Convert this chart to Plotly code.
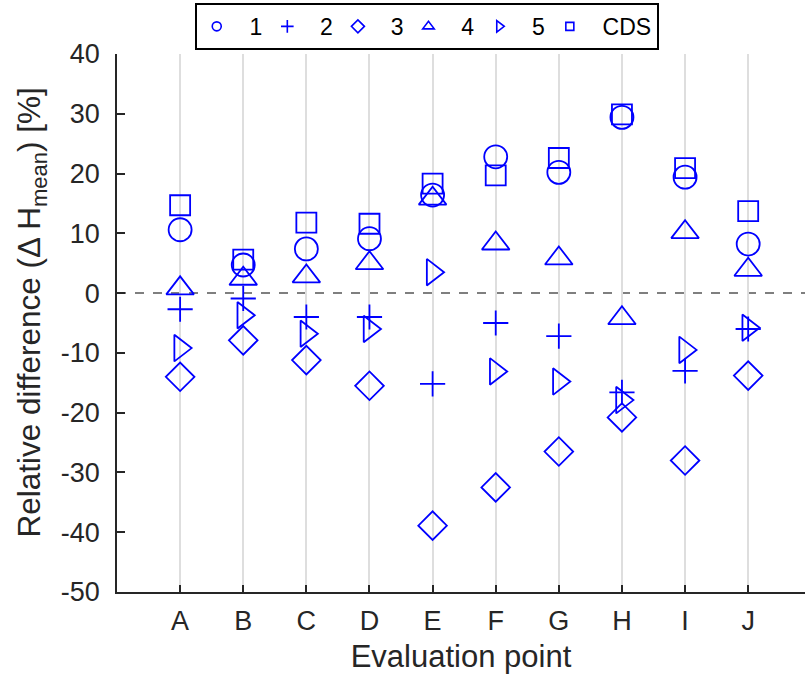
import plotly.graph_objects as go

categories = ["A", "B", "C", "D", "E", "F", "G", "H", "I", "J"]
series_names = ["1", "2", "3", "4", "5", "CDS"]
s1 = [10.6, 4.7, 7.4, 9.1, 16.4, 22.8, 20.2, 29.4, 19.4, 8.2]
s2 = [-2.7, -0.9, -4.0, -4.0, -15.2, -5.0, -7.2, -16.6, -13.0, -6.0]
s3 = [-14.0, -7.9, -11.2, -15.5, -38.9, -32.5, -26.5, -20.8, -28.0, -13.8]
s4 = [0.8, 2.4, 2.8, 5.0, 15.8, 8.3, 5.8, -4.2, 10.2, 3.9]
s5 = [-9.2, -3.7, -6.8, -6.0, 3.5, -13.1, -14.8, -17.9, -9.5, -5.8]
cds = [14.7, 5.6, 11.8, 11.6, 18.3, 19.7, 22.6, 29.9, 20.9, 13.7]
y_ticks = [-50, -40, -30, -20, -10, 0, 10, 20, 30, 40]
y_ticktext = ["-50", "-40", "-30", "-20", "-10", "0", "10", "20", "30", "40"]

series = [s1, s2, s3, s4, s5, cds]
symbols = ["circle-open", "cross-thin-open", "diamond-open", "triangle-up-open",
           "triangle-right-open", "square-open"]
sizes = [23, 18, 22, 24, 23, 20]
leg_sizes = [9, 9, 10, 10, 10, 8]
BLUE = "#0000ff"
FONT = "Liberation Sans, Arial, sans-serif"

fig = go.Figure()
for name, vals, sym, sz in zip(series_names, series, symbols, sizes):
    fig.add_trace(go.Scatter(
        x=categories, y=vals, mode="markers", showlegend=False,
        marker=dict(symbol=sym, size=sz, color=BLUE,
                    line=dict(color=BLUE, width=1.8)),
    ))
for name, sym, sz in zip(series_names, symbols, leg_sizes):
    fig.add_trace(go.Scatter(
        x=[None], y=[None], mode="markers", name="\u00a0\u00a0" + name,
        marker=dict(symbol=sym, size=sz, color=BLUE,
                    line=dict(color=BLUE, width=1.6)),
    ))

fig.add_shape(type="line", xref="paper", yref="y", x0=0, x1=1, y0=0, y1=0,
              line=dict(color="#555555", width=1.5, dash="dash"), layer="below")

fig.add_annotation(
    text="Relative difference (\u0394 H<sub>mean</sub>) [%]",
    xref="paper", yref="paper", x=-0.124, y=0.519,
    xanchor="center", yanchor="middle", textangle=-90, showarrow=False,
    font=dict(family=FONT, size=31.5, color="#262626"),
)

fig.update_layout(
    width=805, height=680,
    margin=dict(l=117, r=0, t=54, b=88),
    paper_bgcolor="white", plot_bgcolor="white",
    font=dict(family=FONT, size=27, color="#262626"),
    showlegend=True,
    legend=dict(orientation="h", x=0.113, xanchor="left", y=1.095, yanchor="top",
                bordercolor="#000000", borderwidth=2, bgcolor="white",
                font=dict(family=FONT, size=23, color="#000000"),
                itemclick=False, itemdoubleclick=False),
    xaxis=dict(
        type="category", categoryorder="array", categoryarray=categories,
        range=[-1, 9.9], showline=True, linecolor="#262626", linewidth=1.5,
        ticks="inside", ticklen=7, tickwidth=1.5, tickcolor="#262626",
        showgrid=True, gridcolor="#dedede", gridwidth=2, zeroline=False,
        ticklabelstandoff=4,
        title=dict(text="Evaluation point", font=dict(size=31), standoff=10),
        fixedrange=True,
    ),
    yaxis=dict(
        range=[-50, 40], tickvals=y_ticks, ticktext=y_ticktext,
        showline=True, linecolor="#262626",
        linewidth=1.5, ticks="inside", ticklen=8, tickwidth=1.5,
        tickcolor="#262626", showgrid=False, zeroline=False,
        ticklabelstandoff=10,
        fixedrange=True,
    ),
)

fig.write_html("out.html")
